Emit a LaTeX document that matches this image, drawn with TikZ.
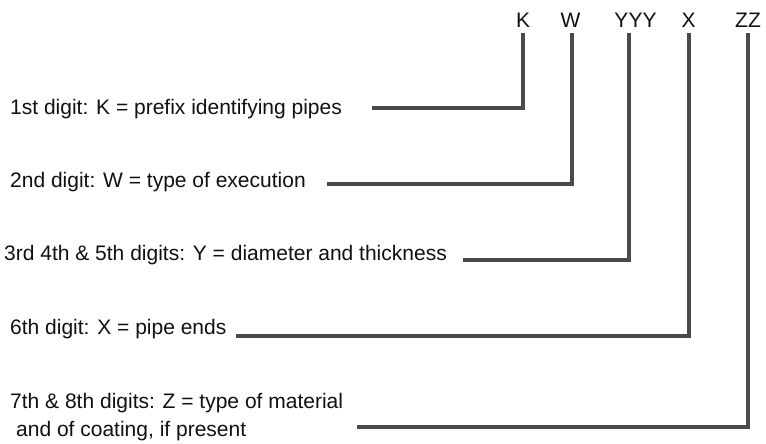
\documentclass[tikz,border=0pt]{standalone}
\usepackage{fontspec}
\setmainfont{Liberation Sans}
\definecolor{linegray}{HTML}{4A4A4A}
\definecolor{txt}{HTML}{111111}
\newcommand{\lblfont}{\fontsize{21}{24}\selectfont}
\begin{document}
\begin{tikzpicture}[x=1pt,y=-1pt,
  conn/.style={line width=4pt, draw=linegray, line join=miter, shorten >=6pt},
  lbl/.style={font=\lblfont, text=txt, inner sep=0pt, anchor=base west},
  code/.style={font=\lblfont, text=txt, inner sep=0pt, anchor=base}]
\useasboundingbox[fill=white] (0,0) rectangle (766,444);
% code letters
\node[code] (K) at (523,27.3) {K};
\node[code] (W) at (570.5,27.3) {W};
\node[code] (Y) at (635.5,27.3) {YYY};
\node[code] (X) at (688.5,27.3) {X};
\node[code] (Z) at (748,27.3) {ZZ};
% descriptions
\node[lbl] (t1) at (10,114) {1st digit: K = prefix identifying pipes};
\node[lbl] (t2) at (10,187.7) {2nd digit: W = type of execution};
\node[lbl] (t3) at (4,260) {3rd 4th \& 5th digits: Y = diameter and thickness};
\node[lbl] (t4) at (10,334.3) {6th digit: X = pipe ends};
\node[lbl] (t5) at (10,408.3) {7th \& 8th digits: Z = type of material};
\node[lbl] (t6) at (16,436.7) {and of coating, if present};
% line start points
\coordinate (s1) at (372,108);
\coordinate (s2) at (327,184);
\coordinate (s3) at (463,260);
\coordinate (s4) at (236,336);
\coordinate (s5) at (357,427);
% connectors
\draw[conn] (s1) -| (K.south);
\draw[conn] (s2) -| ([xshift=1pt]W.south);
\draw[conn] (s3) -| ([xshift=-6.5pt]Y.south);
\draw[conn] (s4) -| (X.south);
\draw[conn] (s5) -| (Z.south);
\end{tikzpicture}
\end{document}
